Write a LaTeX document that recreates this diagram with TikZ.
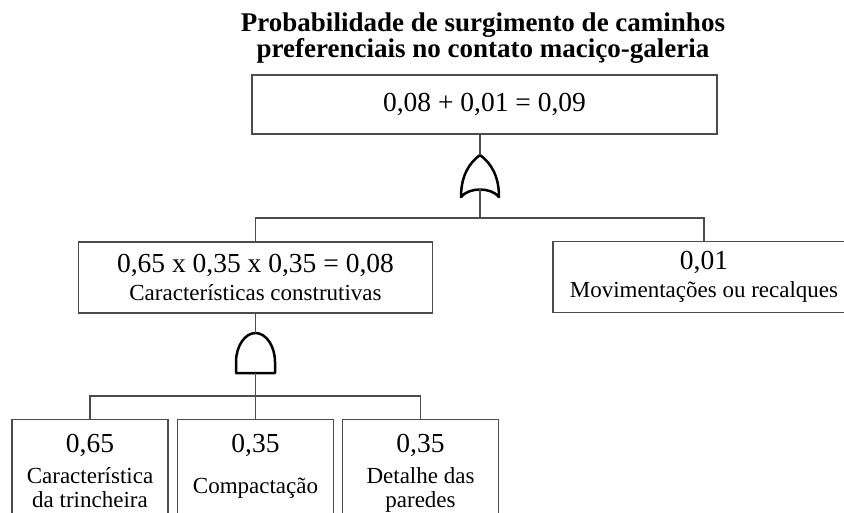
\documentclass[tikz,border=0pt]{standalone}
\usepackage{fontspec}
\setmainfont{Liberation Serif}
\usepackage{tikz}
\usetikzlibrary{positioning, calc}

\newcommand{\valfont}{\fontsize{27.5}{28}\selectfont}

\begin{document}
\begin{tikzpicture}[
    x=1pt, y=-1pt,
    title/.style={font=\bfseries\fontsize{27}{24}\selectfont, align=center, inner sep=0pt},
    topbox/.style={rectangle, draw=black!70, line width=1.3pt, minimum width=465pt, minimum height=59pt, font=\valfont, inner sep=0pt},
    midbox/.style={rectangle, draw=black!70, line width=1.3pt, minimum height=71pt, font=\fontsize{23}{28}\selectfont, align=center, inner sep=0pt},
    leafbox/.style={rectangle, draw=black!70, line width=1.3pt, minimum width=156pt, minimum height=110pt, anchor=north, inner sep=0pt},
    val/.style={font=\valfont, anchor=base, inner sep=0pt},
    lbl/.style={font=\fontsize{23}{24}\selectfont, align=center, anchor=base, inner sep=0pt},
    gate/.style={draw=black, line width=2.5pt, line join=round},
    wire/.style={draw=black!70, line width=1.3pt},
]
\useasboundingbox (0,0) rectangle (844,512);

\node[title] (titulo) at (483,38) {Probabilidade de surgimento de caminhos\\preferenciais no contato maciço-galeria};
\node[topbox] (topo) at (484.5,104.5) {\raisebox{-2pt}{0,08 + 0,01 = 0,09}};

\coordinate (orTip) at (480,155);
\coordinate (orFoot) at (480,188);
\coordinate (orJoin) at (480,218);
\draw[gate] (461,197) .. controls (461,176) and (469,163) .. (orTip)
    .. controls (491,163) and (499,176) .. (499,197)
    .. controls (491,187) and (469,187) .. cycle;

\node[midbox, minimum width=354pt] (constr) at (255.5,277.5) {{\valfont 0,65 x 0,35 x 0,35 = 0,08}\\Características construtivas};
\node[midbox, minimum width=302pt] (movim) at (704,277) {{\valfont 0,01}\\Movimentações ou recalques};

\coordinate (andTip) at (255.5,333);
\coordinate (andFoot) at (255.5,373);
\coordinate (andJoin) at (255.5,396);
\draw[gate] (236,373) -- (236,362) .. controls (236,346) and (245,333) .. (andTip)
    .. controls (266,333) and (275,346) .. (275,362) -- (275,373) -- cycle;

\node[leafbox] (trinch) at (90,419) {};
\node[leafbox] (compac) at (255.5,419) {};
\node[leafbox] (paredes) at (420.5,419) {};

\node[val] at ($(trinch.north)+(0,33)$) {0,65};
\node[val] at ($(compac.north)+(0,33)$) {0,35};
\node[val] at ($(paredes.north)+(0,33)$) {0,35};
\node[lbl] at ($(trinch.north)+(0,64)$) {Característica};
\node[lbl] at ($(trinch.north)+(0,88)$) {da trincheira};
\node[lbl] at ($(compac.north)+(0,74)$) {Compactação};
\node[lbl] at ($(paredes.north)+(0,64)$) {Detalhe das};
\node[lbl] at ($(paredes.north)+(0,88)$) {paredes};

\draw[wire] (orTip |- topo.south) -- (orTip);
\draw[wire] (orFoot) -- (orJoin);
\draw[wire] (constr.north) |- (orJoin) -| (movim.north);
\draw[wire] (andTip |- constr.south) -- (andTip);
\draw[wire] (andFoot) -- (andJoin);
\draw[wire] (trinch.north) |- (andJoin) -| (paredes.north);
\draw[wire] (andJoin) -- (compac.north);
\end{tikzpicture}
\end{document}
